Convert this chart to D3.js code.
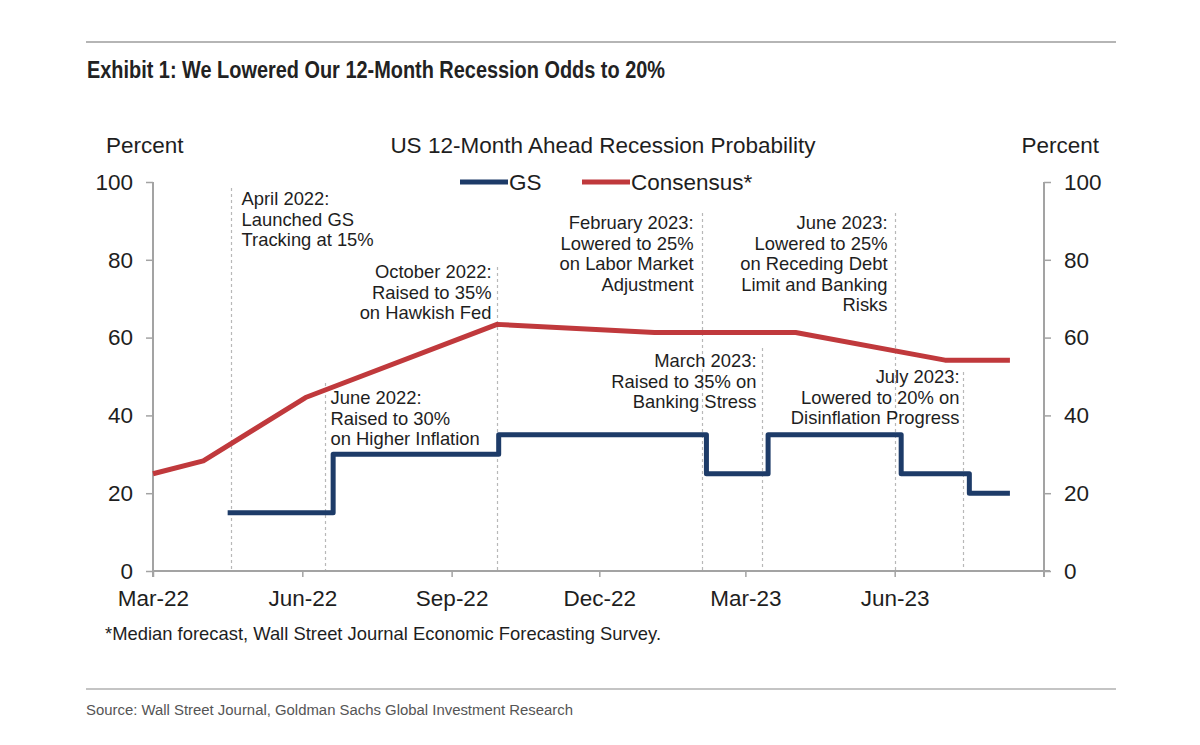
<!DOCTYPE html>
<html>
<head>
<meta charset="utf-8">
<script src="https://cdn.jsdelivr.net/npm/d3@7"></script>
<style>
  html, body { margin: 0; padding: 0; background: #fff; }
  svg { display: block; }
  text { font-family: "Liberation Sans", Arial, Helvetica, sans-serif; fill: #1e1e1e; }
</style>
</head>
<body>
<svg id="chart" width="1200" height="745"></svg>
<script>
// ---------------- DATA ----------------
const xDomain = ["2022-03-01", "2023-09-01"];
const xTickDates = ["2022-03-01", "2022-06-01", "2022-09-01", "2022-12-01", "2023-03-01", "2023-06-01"];
const xTickLabels = ["Mar-22", "Jun-22", "Sep-22", "Dec-22", "Mar-23", "Jun-23"];
const yTicks = [0, 20, 40, 60, 80, 100];

const gsDates = ["2022-04-16", "2022-06-20", "2022-09-30", "2023-02-05", "2023-03-15", "2023-06-05", "2023-07-17", "2023-08-11"];
const gsValues = [15, 30, 35, 25, 35, 25, 20, 20];

const consensusDates = ["2022-03-01", "2022-04-01", "2022-06-03", "2022-09-29", "2023-01-04", "2023-04-01", "2023-07-02", "2023-08-11"];
const consensusValues = [25, 28.3, 44.6, 63.4, 61.3, 61.3, 54.2, 54.2];

const seriesNames = ["GS", "Consensus*"];

const eventDates = ["2022-04-18", "2022-06-15", "2022-09-29", "2023-02-02", "2023-03-11", "2023-06-01", "2023-07-13"];
const eventTexts = [
  ["April 2022:", "Launched GS", "Tracking at 15%"],
  ["June 2022:", "Raised to 30%", "on Higher Inflation"],
  ["October 2022:", "Raised to 35%", "on Hawkish Fed"],
  ["February 2023:", "Lowered to 25%", "on Labor Market", "Adjustment"],
  ["March 2023:", "Raised to 35% on", "Banking Stress"],
  ["June 2023:", "Lowered to 25%", "on Receding Debt", "Limit and Banking", "Risks"],
  ["July 2023:", "Lowered to 20% on", "Disinflation Progress"]
];

const titleText = "Exhibit 1: We Lowered Our 12-Month Recession Odds to 20%";
const chartTitle = "US 12-Month Ahead Recession Probability";
const axisTitle = "Percent";
const footnote = "*Median forecast, Wall Street Journal Economic Forecasting Survey.";
const sourceText = "Source: Wall Street Journal, Goldman Sachs Global Investment Research";

// ---------------- LAYOUT ----------------
const parse = d3.utcParse("%Y-%m-%d");
const svg = d3.select("#chart");
const pLeft = 153, pRight = 1044, pTop = 182, pBottom = 571;
const axisColor = "#a3a3a3";
const gsColor = "#1d3b68";
const conColor = "#c0393c";

const x = d3.scaleUtc().domain(xDomain.map(parse)).range([pLeft, pRight]);
const y = d3.scaleLinear().domain([0, 100]).range([pBottom, pTop]);

// header rules
svg.append("line").attr("x1", 86).attr("x2", 1116).attr("y1", 42).attr("y2", 42)
  .attr("stroke", "#b5b5b5").attr("stroke-width", 2);
svg.append("line").attr("x1", 86).attr("x2", 1116).attr("y1", 689).attr("y2", 689)
  .attr("stroke", "#c4c4c4").attr("stroke-width", 2);

svg.append("text").attr("x", 87).attr("y", 78)
  .attr("textLength", 578).attr("lengthAdjust", "spacingAndGlyphs")
  .style("font-family", "'Liberation Sans Narrow','Arial Narrow','Liberation Sans',sans-serif")
  .style("font-weight", "bold").style("font-size", "23px").style("fill", "#222")
  .text(titleText);

svg.append("text").attr("x", 86).attr("y", 715)
  .attr("textLength", 487).attr("lengthAdjust", "spacingAndGlyphs")
  .style("font-family", "'Liberation Sans Narrow','Arial Narrow','Liberation Sans',sans-serif")
  .style("font-size", "15.5px").style("fill", "#555")
  .text(sourceText);

// chart title & axis titles
svg.append("text").attr("x", 603).attr("y", 153).attr("text-anchor", "middle")
  .style("font-size", "22.5px").text(chartTitle);
svg.append("text").attr("x", 106).attr("y", 153).style("font-size", "22.5px").text(axisTitle);
svg.append("text").attr("x", 1099).attr("y", 153).attr("text-anchor", "end").style("font-size", "22.5px").text(axisTitle);

// event dashed lines + annotations
const eventLayout = [
  { lineTop: 188, anchor: "start", dx: 10, y0: 205 },
  { lineTop: 383, anchor: "start", dx: 5, y0: 404 },
  { lineTop: 267, anchor: "end", dx: -6, y0: 278 },
  { lineTop: 213, anchor: "end", dx: -9, y0: 229 },
  { lineTop: 348, anchor: "end", dx: -6, y0: 367 },
  { lineTop: 213, anchor: "end", dx: -8, y0: 229 },
  { lineTop: 372, anchor: "end", dx: -4, y0: 383 }
];
const lineGap = 20.6;
eventDates.forEach((d, i) => {
  const ex = Math.round(x(parse(d))) + 0.5;
  const L = eventLayout[i];
  svg.append("line").attr("x1", ex).attr("x2", ex).attr("y1", L.lineTop).attr("y2", pBottom)
    .attr("stroke", "#b8b8b8").attr("stroke-width", 1.2).attr("stroke-dasharray", "3,3");
  const t = svg.append("text").attr("text-anchor", L.anchor).style("font-size", "18.4px");
  eventTexts[i].forEach((s, j) => {
    t.append("tspan").attr("x", ex + L.dx).attr("y", L.y0 + j * lineGap).text(s);
  });
});

// axes
const yLeft = d3.axisLeft(y).tickValues(yTicks).tickSize(7).tickPadding(13);
const yRight = d3.axisRight(y).tickValues(yTicks).tickSize(7).tickPadding(13);
const xAxis = d3.axisBottom(x).tickValues(xTickDates.map(parse))
  .tickFormat((d, i) => xTickLabels[i]).tickSize(6).tickPadding(13);

function styleAxis(g) {
  g.select(".domain").remove();
  g.selectAll(".tick line").attr("stroke", axisColor).attr("stroke-width", 1.5);
  g.selectAll(".tick text").style("font-size", "22.5px").style("font-family", "'Liberation Sans', Arial, sans-serif").attr("fill", "#1e1e1e");
}
svg.append("g").attr("transform", `translate(${pLeft},0)`).call(yLeft).call(styleAxis);
svg.append("g").attr("transform", `translate(${pRight},0)`).call(yRight).call(styleAxis);
const gx = svg.append("g").attr("transform", `translate(0,${pBottom})`).call(xAxis).call(styleAxis);
gx.selectAll(".tick text").attr("dy", "0.71em");

// axis lines
svg.append("line").attr("x1", pLeft).attr("x2", pLeft).attr("y1", pTop).attr("y2", pBottom + 6)
  .attr("stroke", axisColor).attr("stroke-width", 2);
svg.append("line").attr("x1", pRight).attr("x2", pRight).attr("y1", pTop).attr("y2", pBottom + 6)
  .attr("stroke", axisColor).attr("stroke-width", 2);
svg.append("line").attr("x1", pLeft).attr("x2", pRight + 6).attr("y1", pBottom).attr("y2", pBottom)
  .attr("stroke", axisColor).attr("stroke-width", 2);

// series
const conData = consensusDates.map((d, i) => ({ date: parse(d), v: consensusValues[i] }));
const gsData = gsDates.map((d, i) => ({ date: parse(d), v: gsValues[i] }));

svg.append("path").datum(conData)
  .attr("d", d3.line().x(d => x(d.date)).y(d => y(d.v)))
  .attr("fill", "none").attr("stroke", conColor).attr("stroke-width", 5)
  .attr("stroke-linejoin", "round");

svg.append("path").datum(gsData)
  .attr("d", d3.line().curve(d3.curveStepAfter).x(d => x(d.date)).y(d => y(d.v)))
  .attr("fill", "none").attr("stroke", gsColor).attr("stroke-width", 5)
  .attr("stroke-linejoin", "round");

// legend
const legend = [
  { name: seriesNames[0], color: gsColor, x0: 460 },
  { name: seriesNames[1], color: conColor, x0: 582 }
];
legend.forEach(L => {
  svg.append("line").attr("x1", L.x0).attr("x2", L.x0 + 48).attr("y1", 182).attr("y2", 182)
    .attr("stroke", L.color).attr("stroke-width", 5);
  svg.append("text").attr("x", L.x0 + 49).attr("y", 190).style("font-size", "22.5px").text(L.name);
});

// footnote
svg.append("text").attr("x", 105).attr("y", 640).style("font-size", "18.4px").text(footnote);
</script>
</body>
</html>
